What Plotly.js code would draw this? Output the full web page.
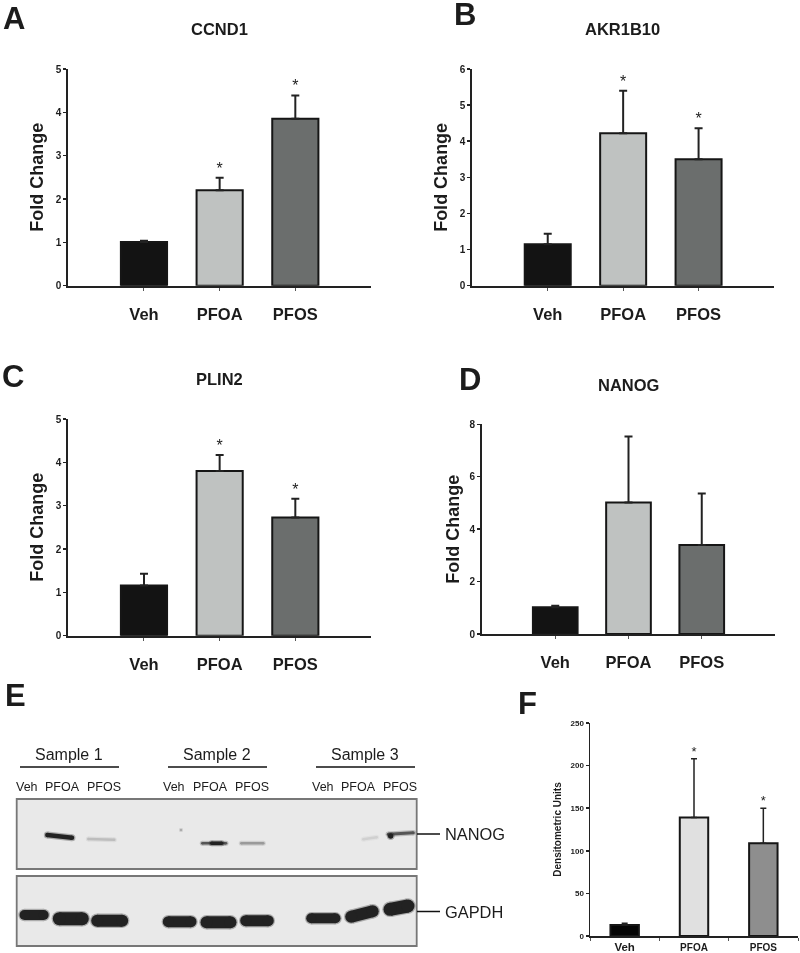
<!DOCTYPE html>
<html>
<head>
<meta charset="utf-8">
<script src="https://cdn.plot.ly/plotly-3.0.1.min.js"></script>
<style>
html,body{margin:0;padding:0;background:#fff;}
#chart{width:800px;height:953px;filter:blur(0.45px);}
</style>
</head>
<body>
<div id="chart"></div>
<script>
// ---------- bar chart data ----------
const treatments = ["Veh", "PFOA", "PFOS"];

const ccnd1Mean = [1.01, 2.20, 3.85];
const ccnd1Err  = [0.03, 0.29, 0.54];
const ccnd1Star = [false, true, true];

const akrMean = [1.15, 4.22, 3.50];
const akrErr  = [0.29, 1.18, 0.86];
const akrStar = [false, true, true];

const plinMean = [1.16, 3.80, 2.73];
const plinErr  = [0.27, 0.37, 0.43];
const plinStar = [false, true, true];

const nanogMean = [1.02, 5.02, 3.40];
const nanogErr  = [0.06, 2.51, 1.96];
const nanogStar = [false, false, false];

const densMean = [13, 139, 109];
const densErr  = [2, 69, 41];
const densStar = [false, true, true];

// ---------- western blot readings (lane units across the membrane) ----------
const sampleNames = ["Sample 1", "Sample 2", "Sample 3"];
const laneNames = ["Veh","PFOA","PFOS","Veh","PFOA","PFOS","Veh","PFOA","PFOS"];

const nanogBandStart = [30.6, 71.6, 185.6, 195, 224.6, 346.6, 371.6, 374, 164.3];
const nanogBandEnd   = [55.3, 97.6, 209.3, 205, 246.6, 360, 396.6, 374, 164.3];
const nanogBandLeft  = [34, 30, 25.7, 25.7, 25.7, 29.7, 34.7, 33, 39];
const nanogBandRight = [31.3, 29.3, 25.7, 25.7, 25.7, 31.7, 36.3, 33, 39];
const nanogBandThick = [4.5, 2.5, 2.5, 3.5, 2.5, 2.5, 3, 5, 1.5];
const nanogBandGrey  = ["#222","#bdbdbd","#555","#222","#9a9a9a","#d0d0d0","#555","#222","#999"];

const gapdhBandStart = [7.8, 42.6, 80.5, 151.6, 189.8, 229, 294.5, 334.5, 373.3];
const gapdhBandEnd   = [27, 65.6, 105.5, 174.3, 213.8, 251.6, 318.8, 356, 391.3];
const gapdhBandLeft  = [31, 27.3, 25.3, 24.3, 23.7, 25.3, 27.7, 29.3, 36.7];
const gapdhBandRight = [31, 27.3, 25.3, 24.3, 23.7, 25.3, 27.7, 34.7, 40];
const gapdhBandThick = [10, 13, 12, 11, 12, 11, 10, 12, 13];

// ---------- helpers ----------
const W = 800, H = 953;
const FONT = '"Liberation Sans", Arial, sans-serif';
const INK = "#1c1c1c";
const px = x => x / W;
const py = y => 1 - y / H;
const traces = [];
const layout = {
  width: W, height: H, margin: {l:0,r:0,t:0,b:0},
  paper_bgcolor: "#fff", plot_bgcolor: "rgba(0,0,0,0)",
  showlegend: false, font: {family: FONT, color: INK},
  annotations: [], shapes: [], bargap: 0.39
};

function note(text, x, y, size, bold, xanchor) {
  layout.annotations.push({
    text: bold ? "<b>" + text + "</b>" : text,
    xref: "paper", yref: "paper", x: px(x), y: py(y),
    xanchor: xanchor || "center", yanchor: "middle", showarrow: false,
    font: {family: FONT, size: size, color: INK}
  });
}

function barPanel(o) {
  const n = o.n, xa = "x" + n, ya = "y" + n, up = o.mean.map((m,i) => m + o.err[i]);
  traces.push({
    type: "bar", x: treatments, y: o.mean, xaxis: xa, yaxis: ya, width: o.barW,
    marker: {color: o.colors, line: {color: "#161616", width: o.barLine}},
    error_y: {type:"data", symmetric:false, array:o.err, arrayminus:[0,0,0],
              color:"#222", thickness:o.errT, width:o.capW},
    hoverinfo: "skip"
  });
  traces.push({
    type: "scatter", mode: "text", xaxis: xa, yaxis: ya, cliponaxis: false,
    x: treatments.filter((t,i) => o.star[i]),
    y: up.filter((t,i) => o.star[i]),
    text: o.star.filter(s => s).map(() => "*"),
    textposition: "top center",
    textfont: {family: FONT, size: o.starSize, color: INK},
    hoverinfo: "skip"
  });
  layout["xaxis" + n] = {
    type:"category", domain:[px(o.l), px(o.r)], anchor:ya, range:[o.x0, o.x1],
    categoryorder:"array", categoryarray:treatments,
    showgrid:false, zeroline:false, showline:true, linecolor:"#222", linewidth:o.axisW,
    ticks:"outside", ticklen:3, tickwidth:1, tickcolor:"#555",
    tickson:o.tickson || "labels", tickmode:"array", tickvals:treatments,
    ticktext:o.ticktext || treatments.map(t => "<b>" + t + "</b>"),
    tickfont:{family:FONT, size:o.catSize, color:INK}, ticklabelstandoff:o.standoff
  };
  layout["yaxis" + n] = {
    domain:[py(o.b), py(o.t)], anchor:xa, range:[0, o.top], dtick:o.dtick, tick0:0,
    showgrid:false, zeroline:false, showline:true, linecolor:"#222", linewidth:o.axisW,
    ticks:"outside", ticklen:3, tickwidth:1.5, tickcolor:"#222",
    tickprefix:"<b>", ticksuffix:"</b>",
    tickfont:{family:FONT, size:o.tickSize, color:INK},
    title:{text:"<b>" + o.ytitle + "</b>", font:{family:FONT, size:o.ySize, color:INK}, standoff:o.yStand}
  };
  if (o.title) note(o.title, o.titleX, o.titleY, 16.5, true);
}

const grey = ["#131313", "#bfc2c1", "#6b6e6d"];
const greyF = ["#050505", "#e0e0e0", "#8e8e8e"];
const common = {barW:0.61, barLine:2, errT:2, capW:4, starSize:16, axisW:2, x0:-1, x1:3,
                catSize:16.5, standoff:9, tickSize:10, ytitle:"Fold Change", ySize:18, yStand:7,
                colors:grey};

barPanel({...common, n:1, mean:ccnd1Mean, err:ccnd1Err, star:ccnd1Star, l:68.3, r:371, t:69, b:285.7,
          top:5, dtick:1, title:"CCND1", titleX:219, titleY:29});
barPanel({...common, n:2, mean:akrMean, err:akrErr, star:akrStar, l:472.3, r:774, t:69, b:285.7,
          top:6, dtick:1, title:"AKR1B10", titleX:622, titleY:29});
barPanel({...common, n:3, mean:plinMean, err:plinErr, star:plinStar, l:68.3, r:371, t:419, b:635.7,
          top:5, dtick:1, title:"PLIN2", titleX:219, titleY:379});
barPanel({...common, n:4, mean:nanogMean, err:nanogErr, star:nanogStar, l:482, r:775, t:424.3, b:634,
          top:8, dtick:2, title:"NANOG", titleX:628, titleY:385, yStand:5});
barPanel({...common, n:5, mean:densMean, err:densErr, star:densStar, l:590, r:798, t:723, b:936,
          top:250, dtick:50, barW:0.41, x0:-0.5, x1:2.5, capW:3, errT:1.5, starSize:13, colors:greyF,
          tickson:"boundaries", standoff:1, catSize:10, axisW:1.5,
          ticktext:['<b><span style="font-size:11.5px">Veh</span></b>','<b>PFOA</b>','<b>PFOS</b>'],
          tickSize:8, ytitle:"Densitometric Units", ySize:10, yStand:7});

// ---------- western blot panel ----------
function blot(n, t, b, start, end, left, right, thick, colour) {
  const xa = "x" + n, ya = "y" + n;
  layout["xaxis" + n] = {domain:[px(16.7), px(416.7)], anchor:ya, range:[0,400], visible:false, fixedrange:true};
  layout["yaxis" + n] = {domain:[py(b), py(t)], anchor:xa, range:[0,70], visible:false, fixedrange:true};
  layout.shapes.push({type:"rect", layer:"below", xref:xa + " domain", yref:ya + " domain",
    x0:0, x1:1, y0:0, y1:1, fillcolor:"#e9e9e9", line:{color:"#777777", width:1.8}});
  start.forEach((s,i) => {
    const c = Array.isArray(colour) ? colour[i] : colour;
    // soft halo under each band, then the band itself
    [[thick[i] + 2.5, 0.3], [thick[i], 1]].forEach(([w, op]) => {
      traces.push({type:"scatter", mode:"lines+markers", xaxis:xa, yaxis:ya, opacity:op,
        x:[s, end[i]], y:[left[i], right[i]],
        line:{color:c, width:w}, marker:{color:c, size:w, line:{width:0}},
        hoverinfo:"skip"});
    });
  });
}
blot(6, 799, 869, nanogBandStart, nanogBandEnd, nanogBandLeft, nanogBandRight, nanogBandThick, nanogBandGrey);
blot(7, 876, 946, gapdhBandStart, gapdhBandEnd, gapdhBandLeft, gapdhBandRight, gapdhBandThick, "#222222");

// sample headers, lane labels, target labels
const sampleX = [69, 217, 365], sampleRule = [[20,119],[168,267],[316,415]];
sampleNames.forEach((s,i) => {
  note(s, sampleX[i], 754, 16);
  layout.shapes.push({type:"line", xref:"paper", yref:"paper", x0:px(sampleRule[i][0]), x1:px(sampleRule[i][1]),
    y0:py(767), y1:py(767), line:{color:"#111", width:1.5}});
});
const laneX = [27, 62, 104, 174, 210, 252, 323, 358, 400];
laneNames.forEach((s,i) => note(s, laneX[i], 787, 12.5));
[["NANOG",834],["GAPDH",911.5]].forEach(([s,y]) => {
  note(s, 443, y, 16.4, false, "left");
  layout.shapes.push({type:"line", xref:"paper", yref:"paper", x0:px(417), x1:px(440),
    y0:py(y), y1:py(y), line:{color:"#111", width:1.5}});
});

// panel letters
[["A",1,19],["B",452,14],["C",0,376],["D",457,379],["E",3,695],["F",516,703]]
  .forEach(([s,x,y]) => note(s, x, y, 31, true, "left"));

Plotly.newPlot("chart", traces, layout, {staticPlot:true, displayModeBar:false});
</script>
</body>
</html>
